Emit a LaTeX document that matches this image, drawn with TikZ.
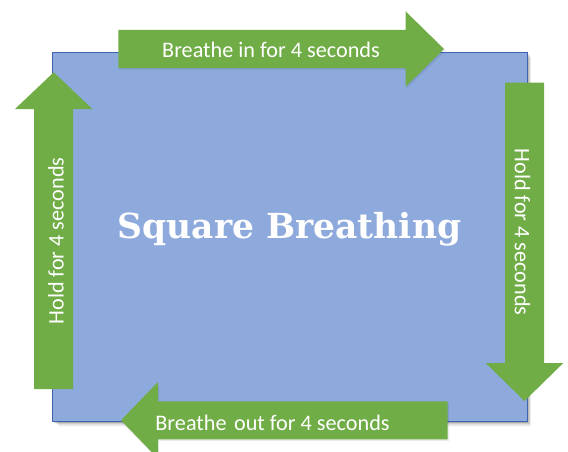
\documentclass[tikz,border=0pt]{standalone}
\usepackage{fontspec}
\setmainfont{Carlito}
\newfontfamily\titlefont{DejaVu Serif}
\definecolor{boxblue}{RGB}{142,169,219}
\definecolor{boxedge}{RGB}{60,100,175}
\definecolor{arrowgreen}{RGB}{112,173,71}
\tikzset{
  arrowshape/.style={fill=arrowgreen, draw=none},
  arrowtext/.style={text=white, font=\fontsize{22.2}{25}\selectfont, inner sep=0pt},
  arrowshadow/.style={fill=black, opacity=0.08, draw=none},
}
\begin{document}
\begin{tikzpicture}[x=1pt,y=-1pt]
\useasboundingbox (0,0) rectangle (568,451);
\clip (0,0) rectangle (568,451);
% shadow of square
\foreach \d/\o in {1/0.10,2/0.09,3/0.08,4/0.06,5/0.04,6/0.03}{
  \fill[black, opacity=\o] (52.5+\d,52+\d) rectangle (527.7+\d*0.6,421.7+\d*0.8);
}
\node[draw=boxedge, line width=1pt, fill=boxblue, minimum width=475.2pt, minimum height=369.7pt, inner sep=0pt] (square) at (290.1,236.85) {};
% title
\node[text=white, font=\titlefont\bfseries\fontsize{34.5}{40}\selectfont, inner sep=0pt] (title) at (289.5,229.5) {Square Breathing};
% top arrow (right)
\fill[arrowshadow] (119,31.5) -- (407,31.5) -- (407,13) -- (446,50.5) -- (407,88) -- (407,69.5) -- (119,69.5) -- cycle;
\fill[arrowshape] (118.3,29.8) -- (405.7,29.8) -- (405.7,11.4) -- (444,49) -- (405.7,86.6) -- (405.7,68.2) -- (118.3,68.2) -- cycle;
\node[arrowtext] (tin) at (271,50) {Breathe in for 4 seconds};
% right arrow (down)
\fill[arrowshape] (505,82.7) -- (544,82.7) -- (544,363) -- (563.3,363) -- (524.5,401) -- (485.7,363) -- (505,363) -- cycle;
\node[arrowtext, rotate=-90] (tright) at (522.5,232) {Hold for 4 seconds};
% bottom arrow (left)
\fill[arrowshadow] (449,403) -- (449,441) -- (159,441) -- (159,460) -- (122,423) -- (159,386) -- (159,403) -- cycle;
\fill[arrowshape] (447.7,401.3) -- (447.7,439.3) -- (158,439.3) -- (158,458.6) -- (121,420.3) -- (158,382) -- (158,401.3) -- cycle;
\node[arrowtext] (tout) at (272.5,423) {Breathe\hspace{2.5pt} out for 4 seconds};
% left arrow (up)
\fill[arrowshape] (34.2,389) -- (34.2,109) -- (15,109) -- (53.7,72.3) -- (92.4,109) -- (73.2,109) -- (73.2,389) -- cycle;
\node[arrowtext, rotate=90] (tleft) at (56,241) {Hold for 4 seconds};
\end{tikzpicture}
\end{document}
